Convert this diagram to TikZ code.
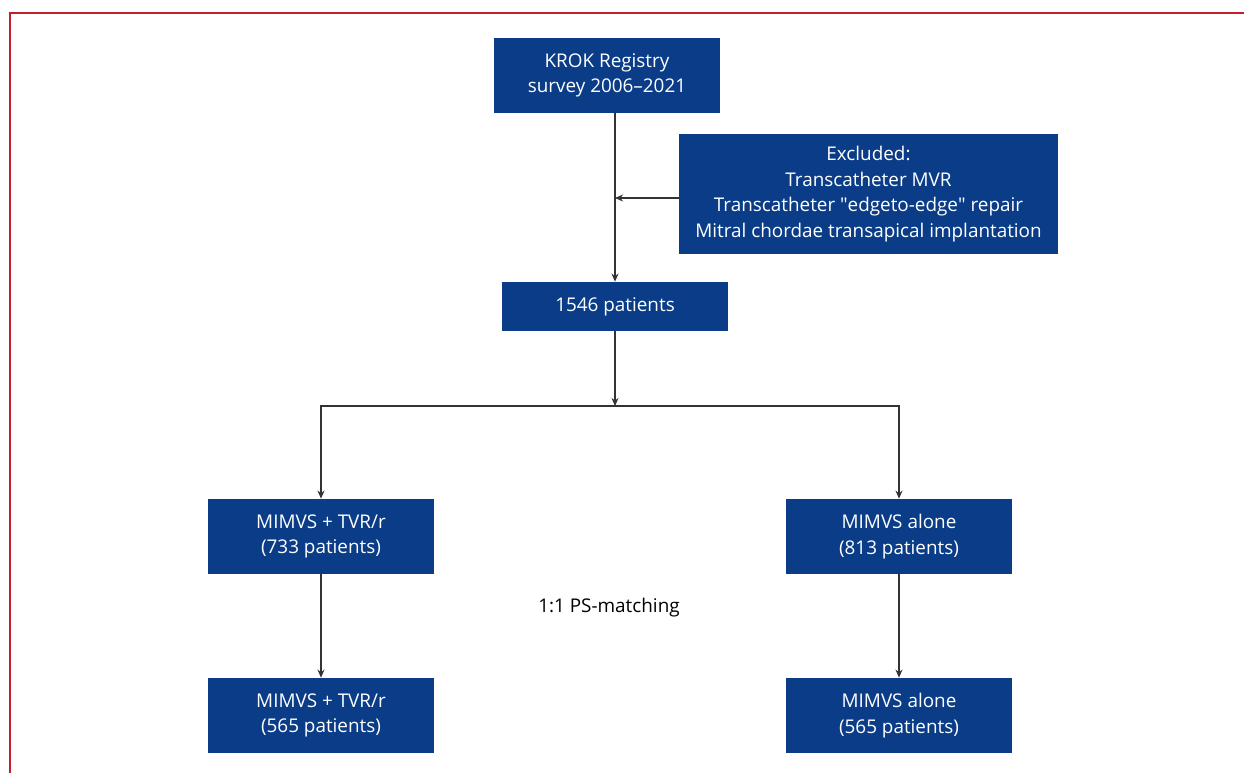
\documentclass[tikz,border=0pt]{standalone}
\usepackage{fontspec}
\setmainfont{Open Sans}
\usetikzlibrary{arrows.meta}
\definecolor{boxblue}{HTML}{0A3C87}
\definecolor{framered}{HTML}{C0202A}
\definecolor{linegray}{HTML}{333333}
\tikzset{
  flowbox/.style={fill=boxblue, text=white, align=center, inner sep=0pt,
    font=\fontsize{10.75}{14.6}\selectfont, minimum width=4.52cm, minimum height=1.5cm},
  flowline/.style={draw=linegray, line width=0.6pt, -{Stealth[length=4.6pt,width=4pt]}}
}
\begin{document}
\begin{tikzpicture}[x=0.02cm,y=-0.02cm]
			%%%%% FRAME %%%%%
			\useasboundingbox (0,0) rectangle (1244,773);
			\draw[framered, line width=1.1pt] (10,773) -- (10,13) -- (1244,13);
			
			%%%%% BOXES %%%%%
			\node[flowbox] (krok) at (607,75.5) {KROK Registry\\survey 2006--2021};
			\node[flowbox, minimum width=7.58cm, minimum height=2.4cm] (excl) at (868.5,194)
				{Excluded:\\Transcatheter MVR\\Transcatheter \textquotedbl edgeto-edge\textquotedbl{} repair\\Mitral chordae transapical implantation};
			\node[flowbox, minimum height=0.98cm] (pts) at (615,306.5) {1546 patients};
			
			\node[flowbox] (tvrA) at (321,536.5) {MIMVS + TVR/r\\(733 patients)};
			\node[flowbox] (aloneA) at (899,536.5) {MIMVS alone\\(813 patients)};
			\node[flowbox] (tvrB) at (321,715.5) {MIMVS + TVR/r\\(565 patients)};
			\node[flowbox] (aloneB) at (899,715.5) {MIMVS alone\\(565 patients)};
			
			\node[font=\fontsize{10.75}{12}\selectfont] (match) at (609,608) {1:1 PS-matching};
			
			%%%%% CONNECTORS %%%%%
			\coordinate (join) at (615,198);
			\coordinate (split) at (615,406);
			\draw[flowline] (krok.south -| pts.north) -- (pts.north);
			\draw[flowline] (excl.west |- join) -- (join);
			\draw[flowline] (pts.south) -- (split);
			\draw[flowline] (split) -| (tvrA.north);
			\draw[flowline] (split) -| (aloneA.north);
			\draw[flowline] (tvrA) -- (tvrB);
			\draw[flowline] (aloneA) -- (aloneB);
		\end{tikzpicture}
\end{document}
